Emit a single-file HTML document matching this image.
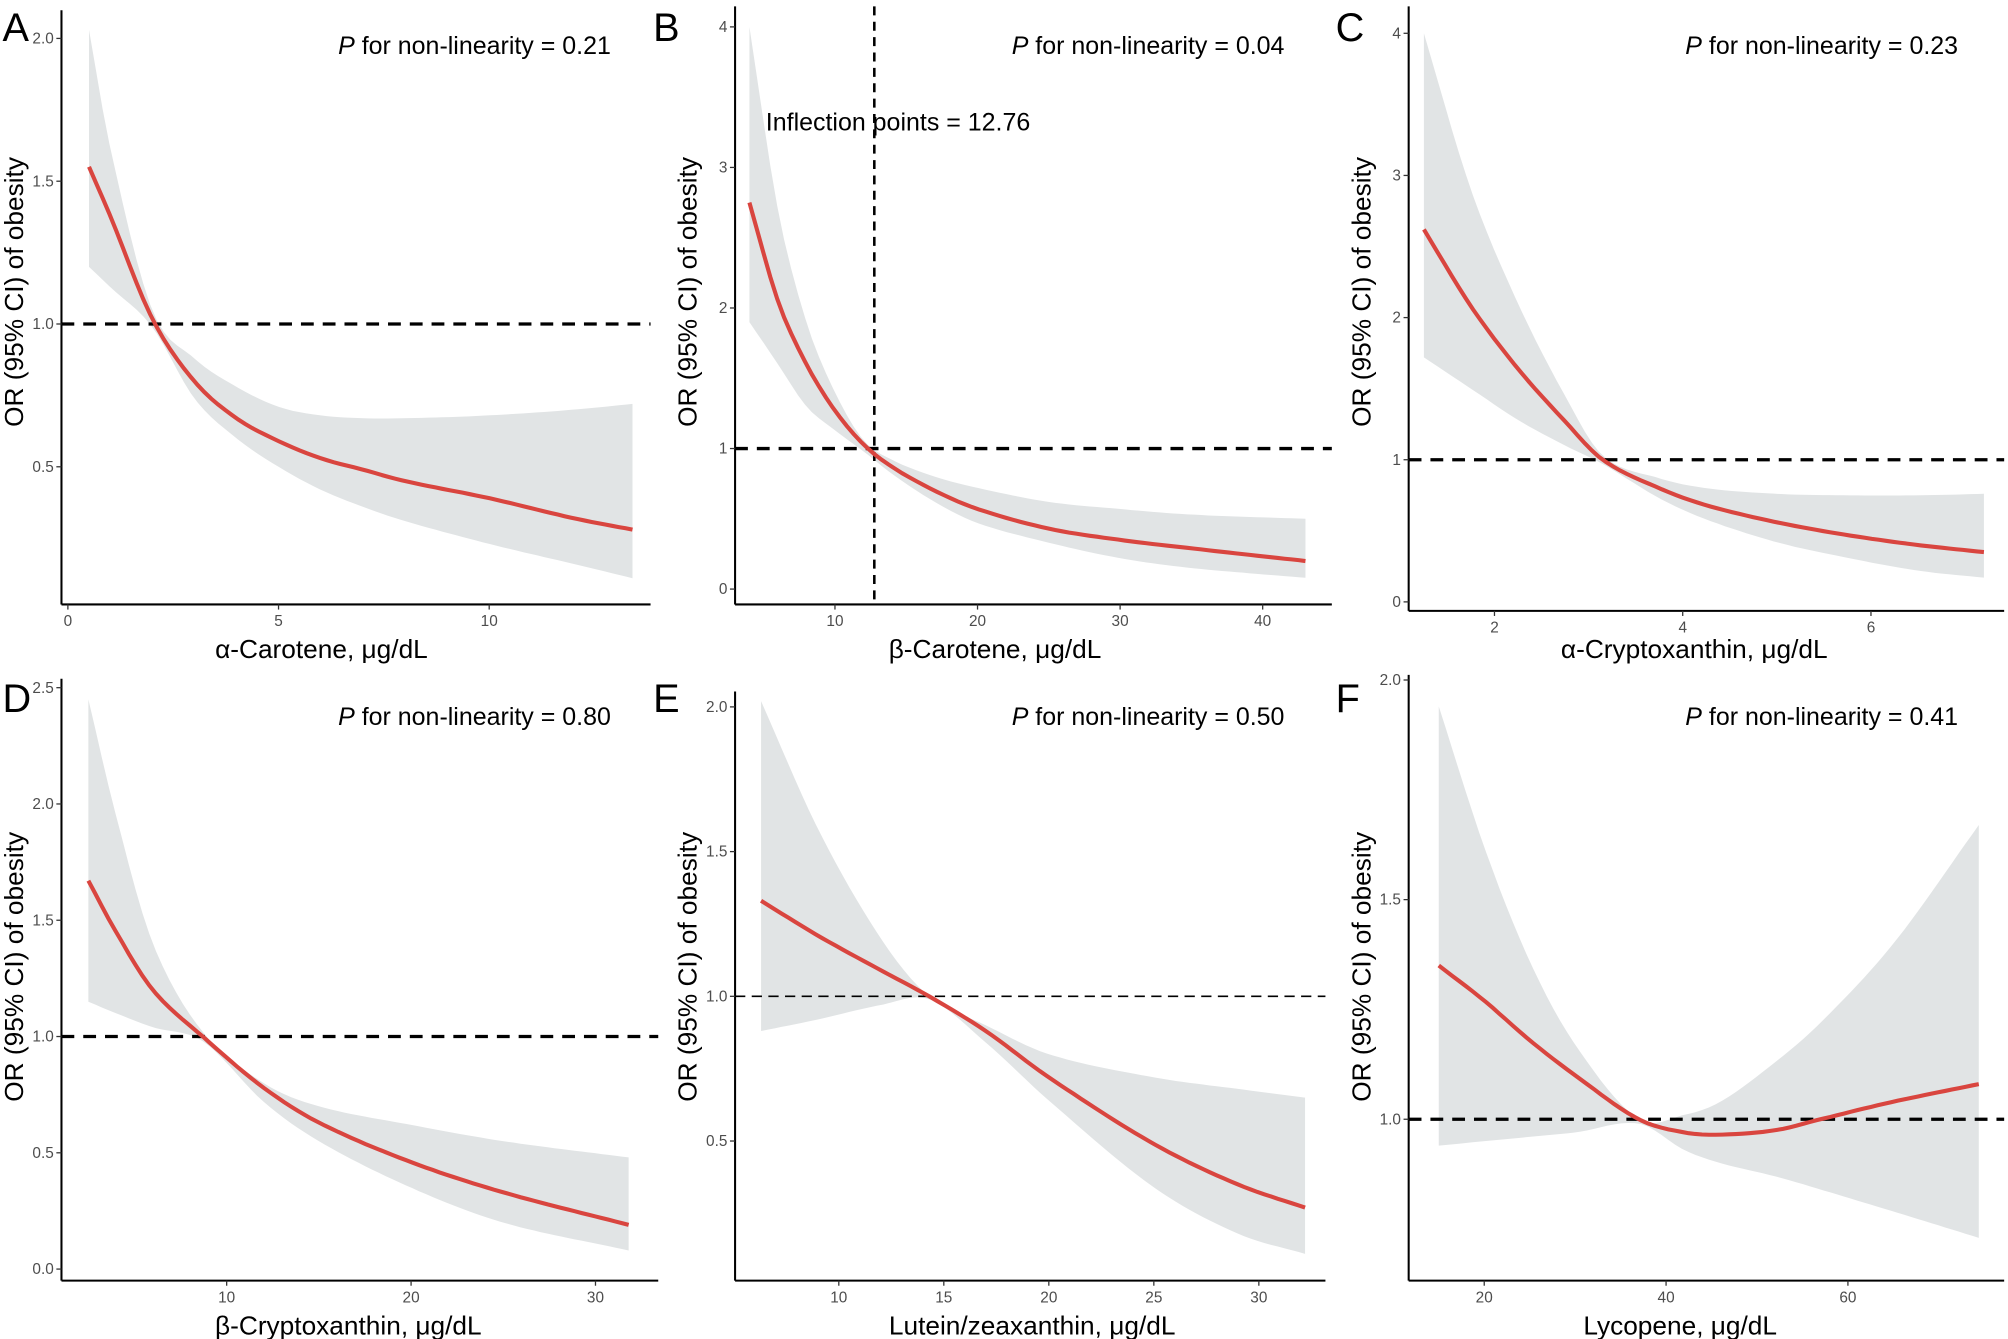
<!DOCTYPE html>
<html><head><meta charset="utf-8"><style>
html,body{margin:0;padding:0;background:#fff;}
svg{display:block;}
text{font-family:"Liberation Sans",Arial,sans-serif;}
</style></head><body>
<svg id="fig" width="2008" height="1339" viewBox="0 0 1568 1045.6" xmlns="http://www.w3.org/2000/svg"></svg>
<script>
// Panel A: alpha-carotene
const xA=[0.5,1,2,3,4,5,6,7,8,10,12,13.4];
const estA=[1.55,1.38,1.02,0.80,0.67,0.59,0.53,0.49,0.45,0.39,0.32,0.28];
const hiA=[2.03,1.62,1.05,0.88,0.78,0.71,0.68,0.67,0.67,0.68,0.70,0.72];
const loA=[1.20,1.13,0.99,0.74,0.60,0.50,0.42,0.36,0.31,0.23,0.16,0.11];
const yTicksA=[0.5,1.0,1.5,2.0];const xTicksA=[0,5,10];
// Panel B: beta-carotene
const xB=[4,6,8,10,12,14,17,20,25,30,35,43];
const estB=[2.75,2.05,1.6,1.27,1.03,0.87,0.70,0.57,0.43,0.35,0.29,0.20];
const hiB=[4.0,2.7,1.9,1.4,1.06,0.92,0.80,0.72,0.62,0.57,0.53,0.50];
const loB=[1.9,1.6,1.3,1.13,0.98,0.82,0.62,0.47,0.33,0.22,0.15,0.08];
const yTicksB=[0,1,2,3,4];const xTicksB=[10,20,30,40];
const inflectionB=12.76;
// Panel C: alpha-cryptoxanthin
const xC=[1.25,1.75,2.25,2.75,3.15,3.75,4.25,5,5.75,6.5,7.2];
const estC=[2.62,2.08,1.64,1.27,1.0,0.80,0.68,0.56,0.47,0.40,0.35];
const hiC=[4.0,2.9,2.1,1.45,1.03,0.87,0.80,0.76,0.75,0.75,0.76];
const loC=[1.72,1.50,1.28,1.10,0.97,0.73,0.58,0.42,0.31,0.22,0.17];
const yTicksC=[0,1,2,3,4];const xTicksC=[2,4,6];
// Panel D: beta-cryptoxanthin
const xD=[2.5,4,6,8.7,12,15,20,25,31.8];
const estD=[1.67,1.45,1.2,1.0,0.78,0.63,0.46,0.33,0.19];
const hiD=[2.45,1.95,1.4,1.02,0.80,0.70,0.62,0.55,0.48];
const loD=[1.15,1.10,1.04,0.98,0.72,0.55,0.35,0.20,0.08];
const yTicksD=[0.0,0.5,1.0,1.5,2.0,2.5];const xTicksD=[10,20,30];
// Panel E: lutein/zeaxanthin
const xE=[6.3,9,12,14.3,17,20,25,29,32.2];
const estE=[1.33,1.21,1.09,1.0,0.88,0.72,0.49,0.35,0.27];
const hiE=[2.02,1.58,1.20,1.0,0.90,0.80,0.72,0.68,0.65];
const loE=[0.88,0.92,0.97,0.99,0.84,0.64,0.34,0.18,0.11];
const yTicksE=[0.5,1.0,1.5,2.0];const xTicksE=[10,15,20,25,30];
// Panel F: lycopene
const xF=[15,20,25,30,37,42,46,52,57,65,74.4];
const estF=[1.35,1.27,1.18,1.10,1.0,0.97,0.965,0.975,1.0,1.04,1.08];
const hiF=[1.94,1.62,1.36,1.17,1.0,1.01,1.04,1.13,1.22,1.40,1.67];
const loF=[0.94,0.95,0.96,0.97,0.99,0.93,0.90,0.87,0.84,0.79,0.73];
const yTicksF=[1.0,1.5,2.0];const xTicksF=[20,40,60];

const NS="http://www.w3.org/2000/svg";
const svg=document.getElementById('fig');
function mk(tag,attrs,parent){const e=document.createElementNS(NS,tag);for(const k in attrs)e.setAttribute(k,attrs[k]);(parent||svg).appendChild(e);return e;}
function interp(xs,ys,x){
  let i=0;while(i<xs.length-2&&x>xs[i+1])i++;
  const x0=xs[i],x1=xs[i+1],t=(x-x0)/(x1-x0);
  const p0=ys[Math.max(i-1,0)],p1=ys[i],p2=ys[i+1],p3=ys[Math.min(i+2,ys.length-1)];
  const xm=xs[Math.max(i-1,0)],xp=xs[Math.min(i+2,xs.length-1)];
  const m1=(p2-p0)/(x1-xm)*(x1-x0),m2=(p3-p1)/(xp-x0)*(x1-x0);
  const t2=t*t,t3=t2*t;
  return (2*t3-3*t2+1)*p1+(t3-2*t2+t)*m1+(-2*t3+3*t2)*p2+(t3-t2)*m2;
}
const panels=[
 {id:'a',letter:'A',lx:2,ly:32,ax:48,top:8,right:508,bottom:472,x0v:0,x0p:53,x1v:10,x1p:382,y0v:1.0,y0p:253,y1v:2.0,y1p:30,
  xs:xA,est:estA,hi:hiA,lo:loA,yt:yTicksA,xt:xTicksA,fmt:1,title:'α-Carotene, μg/dL',tx:251,ty:514,ycy:228,p:'0.21',thin:false},
 {id:'b',letter:'B',lx:510,ly:32,ax:574,top:5,right:1040,bottom:472,x0v:10,x0p:652,x1v:40,x1p:986,y0v:0,y0p:460,y1v:4,y1p:21,
  xs:xB,est:estB,hi:hiB,lo:loB,yt:yTicksB,xt:xTicksB,fmt:0,title:'β-Carotene, μg/dL',tx:777,ty:514,ycy:228,p:'0.04',thin:false,infl:inflectionB},
 {id:'c',letter:'C',lx:1043,ly:32,ax:1100,top:5,right:1565,bottom:477,x0v:2,x0p:1167,x1v:6,x1p:1461,y0v:0,y0p:470,y1v:4,y1p:26,
  xs:xC,est:estC,hi:hiC,lo:loC,yt:yTicksC,xt:xTicksC,fmt:0,title:'α-Cryptoxanthin, μg/dL',tx:1323,ty:514,ycy:228,p:'0.23',thin:false},
 {id:'d',letter:'D',lx:2,ly:556,ax:48,top:530,right:514,bottom:1000,x0v:10,x0p:177,x1v:30,x1p:465,y0v:0,y0p:991,y1v:2.5,y1p:537,
  xs:xD,est:estD,hi:hiD,lo:loD,yt:yTicksD,xt:xTicksD,fmt:1,title:'β-Cryptoxanthin, μg/dL',tx:272,ty:1042,ycy:755,p:'0.80',thin:false},
 {id:'e',letter:'E',lx:510,ly:556,ax:574,top:540,right:1035,bottom:1000,x0v:10,x0p:655,x1v:30,x1p:983,y0v:1.0,y0p:778,y1v:2.0,y1p:552,
  xs:xE,est:estE,hi:hiE,lo:loE,yt:yTicksE,xt:xTicksE,fmt:1,title:'Lutein/zeaxanthin, μg/dL',tx:806,ty:1042,ycy:755,p:'0.50',thin:true},
 {id:'f',letter:'F',lx:1043,ly:556,ax:1100,top:527,right:1565,bottom:1000,x0v:20,x0p:1159,x1v:60,x1p:1443,y0v:1.0,y0p:874,y1v:2.0,y1p:531,
  xs:xF,est:estF,hi:hiF,lo:loF,yt:yTicksF,xt:xTicksF,fmt:1,title:'Lycopene, μg/dL',tx:1312,ty:1042,ycy:755,p:'0.41',thin:false}
];
panels.forEach(P=>{
  const g=mk('g',{});
  
  
  const X=v=>P.x0p+(v-P.x0v)*(P.x1p-P.x0p)/(P.x1v-P.x0v);
  const Y=v=>P.y0p+(v-P.y0v)*(P.y1p-P.y0p)/(P.y1v-P.y0v);
  const N=80,a=P.xs[0],b=P.xs[P.xs.length-1];
  let up=[],dn=[],ln=[];
  for(let i=0;i<=N;i++){const x=a+(b-a)*i/N;
    up.push(X(x).toFixed(1)+','+Y(interp(P.xs,P.hi,x)).toFixed(1));
    dn.push(X(x).toFixed(1)+','+Y(interp(P.xs,P.lo,x)).toFixed(1));
    ln.push(X(x).toFixed(1)+','+Y(interp(P.xs,P.est,x)).toFixed(1));}
  const band=mk('polygon',{points:up.concat(dn.reverse()).join(' '),fill:'#e1e4e5'},g);
  
  
  const ref=mk('line',{x1:P.ax,x2:P.right,y1:Y(1),y2:Y(1),stroke:'#000','stroke-width':P.thin?1.3:2.6,'stroke-dasharray':P.thin?'8,5':'10,7'},g);
  
  
  if(P.infl){
    const vl=mk('line',{x1:X(P.infl),x2:X(P.infl),y1:P.top,y2:P.bottom,stroke:'#000','stroke-width':2,'stroke-dasharray':'7,5'},g);
    
    
    const it=mk('text',{x:598,y:102,'font-size':19.5},g);it.textContent='Inflection points = '+P.infl;
    
    
  }
  const line=mk('polyline',{points:ln.join(' '),fill:'none',stroke:'#d9453f','stroke-width':3.2},g);
  
  
  const ya=mk('line',{x1:P.ax,x2:P.ax,y1:P.top,y2:P.bottom,stroke:'#000','stroke-width':1.6},g);
  
  
  const xa=mk('line',{x1:P.ax,x2:P.right,y1:P.bottom,y2:P.bottom,stroke:'#000','stroke-width':1.6},g);
  
  
  P.yt.forEach(v=>{
    mk('line',{x1:P.ax-4,x2:P.ax,y1:Y(v),y2:Y(v),stroke:'#333','stroke-width':1},g);
    const t=mk('text',{x:P.ax-6,y:Y(v)+4,'font-size':12,fill:'#4d4d4d','text-anchor':'end'},g);
    t.textContent=P.fmt?v.toFixed(1):String(v);
    
    
  });
  P.xt.forEach(v=>{
    mk('line',{x1:X(v),x2:X(v),y1:P.bottom,y2:P.bottom+4,stroke:'#333','stroke-width':1},g);
    const t=mk('text',{x:X(v),y:P.bottom+17,'font-size':12,fill:'#4d4d4d','text-anchor':'middle'},g);
    t.textContent=String(v);
    
    
  });
  const xt=mk('text',{x:P.tx,y:P.ty,'font-size':20.5,'text-anchor':'middle'},g);
  xt.textContent=P.title;
  
  
  const yt=mk('text',{x:0,y:0,'font-size':20.5,'text-anchor':'middle',transform:`translate(${P.ax-30},${P.ycy}) rotate(-90)`},g);
  yt.textContent='OR (95% CI) of obesity';
  
  
  const pt=mk('text',{x:P.ax+429,y:P.ly+10,'font-size':19.5,'text-anchor':'end'},g);
  const pi=mk('tspan',{'font-style':'italic'},pt);pi.textContent='P';
  const pr=mk('tspan',{},pt);pr.textContent=' for non-linearity = '+P.p;
  
  
  const lt=mk('text',{x:P.lx,y:P.ly,'font-size':31},g);
  lt.textContent=P.letter;
  
  
});
</script>
</body></html>
